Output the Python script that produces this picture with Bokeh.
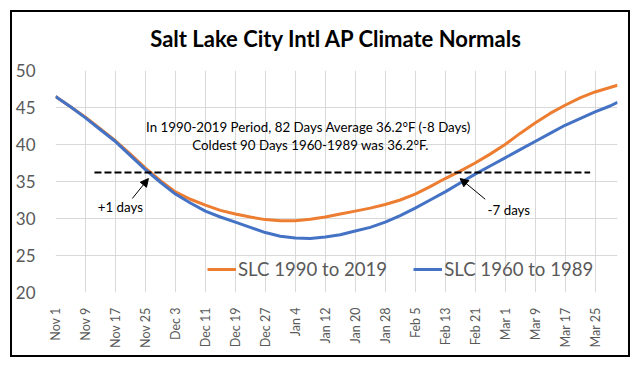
from bokeh.plotting import figure
from bokeh.models import Range1d, FixedTicker, Label, Arrow, NormalHead, Legend, LegendItem
from bokeh.embed import file_html
from bokeh.resources import INLINE
import math

# Day index from Nov 1 (0) to Mar 31 (150)
days = [0, 4, 8, 12, 16, 20, 24, 28, 32, 36, 40, 44, 48, 52, 56, 60, 64, 68, 72, 76,
        80, 84, 88, 92, 96, 100, 104, 108, 112, 116, 120, 124, 128, 132, 136, 140, 144, 148, 150]
slc_1990_2019 = [46.5, 45.1, 43.7, 42.1, 40.5, 38.7, 36.8, 35.1, 33.6, 32.6, 31.8, 31.1, 30.6, 30.2,
                 29.85, 29.7, 29.7, 29.9, 30.2, 30.6, 31.0, 31.4, 31.9, 32.5, 33.3, 34.3, 35.4,
                 36.4, 37.5, 38.7, 40.0, 41.5, 42.9, 44.2, 45.3, 46.3, 47.1, 47.7, 48.0]
slc_1960_1989 = [46.5, 45.1, 43.6, 42.0, 40.4, 38.5, 36.6, 34.9, 33.3, 32.1, 31.0, 30.2, 29.5, 28.8,
                 28.1, 27.6, 27.35, 27.3, 27.5, 27.8, 28.3, 28.8, 29.5, 30.4, 31.4, 32.5, 33.6,
                 34.8, 36.0, 37.1, 38.2, 39.3, 40.4, 41.5, 42.6, 43.5, 44.4, 45.2, 45.7]
tick_days = [0, 8, 16, 24, 32, 40, 48, 56, 64, 72, 80, 88, 96, 104, 112, 120, 128, 136, 144]
tick_labels = ["Nov 1", "Nov 9", "Nov 17", "Nov 25", "Dec 3", "Dec 11", "Dec 19", "Dec 27",
               "Jan 4", "Jan 12", "Jan 20", "Jan 28", "Feb 5", "Feb 13", "Feb 21", "Mar 1",
               "Mar 9", "Mar 17", "Mar 25"]
y_ticks = [20, 25, 30, 35, 40, 45, 50]
threshold = 36.2
threshold_start, threshold_end = 10.4, 142.7
title_text = "Salt Lake City Intl AP Climate Normals"
note1 = "In 1990-2019  Period, 82 Days Average 36.2°F (-8 Days)"
note2 = "Coldest 90 Days 1960-1989  was 36.2°F."

FONT = "Lato"
GRAY = "#595959"

p = figure(width=640, height=367, output_backend="svg", toolbar_location=None,
           x_range=Range1d(0, 150), y_range=Range1d(20, 50),
           min_border_left=55, min_border_right=23, min_border_top=70, min_border_bottom=75)
p.outline_line_color = None
p.border_fill_alpha = 0
# outer chart border (CSS outline, inset so it sits inside the canvas)
p.styles = {"outline": "2.5px solid black", "outline-offset": "-12.5px",
            "background-color": "white"}

p.title.text = title_text
p.title.align = "center"
p.title.text_font = FONT
p.title.text_font_size = "22px"
p.title.text_font_style = "bold"
p.title.text_color = "black"
p.title.standoff = 37

p.xaxis.ticker = FixedTicker(ticks=tick_days)
p.xaxis.major_label_overrides = {d: l for d, l in zip(tick_days, tick_labels)}
p.xaxis.major_label_orientation = math.pi / 2
p.xaxis.major_label_text_font = FONT
p.xaxis.major_label_text_font_size = "12.5px"
p.xaxis.major_label_text_color = GRAY
p.xaxis.major_label_standoff = 9
p.yaxis.ticker = FixedTicker(ticks=y_ticks)
p.yaxis.major_label_text_font = FONT
p.yaxis.major_label_text_font_size = "17px"
p.yaxis.major_label_text_color = GRAY
p.yaxis.major_label_standoff = 14
for ax in (p.xaxis, p.yaxis):
    ax.axis_line_color = None
    ax.major_tick_line_color = None
    ax.minor_tick_line_color = None
p.xgrid.ticker = FixedTicker(ticks=tick_days + [150])
p.ygrid.ticker = FixedTicker(ticks=y_ticks)
p.xgrid.grid_line_color = "#d9d9d9"
p.ygrid.grid_line_color = "#d9d9d9"

r1 = p.line(days, slc_1990_2019, line_color="#ED7D31", line_width=3)
r2 = p.line(days, slc_1960_1989, line_color="#4472C4", line_width=3)

p.line([threshold_start, threshold_end], [threshold, threshold], line_color="black",
       line_width=2, line_dash="7 3")

for txt, x, y in [(note1, 68, 42.4), (note2, 68.5, 39.9), ("+1 days", 17.3, 31.5), ("-7 days", 121, 31.2)]:
    p.add_layout(Label(x=x, y=y, text=txt, text_align="center", text_baseline="middle",
                       text_font=FONT, text_font_size="13.3px", text_color="black"))

p.add_layout(Arrow(x_start=20.5, y_start=32.7, x_end=24.8, y_end=35.4, line_width=1,
                   end=NormalHead(size=8, fill_color="black", line_color="black")))
p.add_layout(Arrow(x_start=114.7, y_start=32.6, x_end=108, y_end=35.4, line_width=1,
                   end=NormalHead(size=8, fill_color="black", line_color="black")))

legend = Legend(items=[LegendItem(label="SLC 1990 to 2019", renderers=[r1]),
                       LegendItem(label="SLC 1960 to 1989", renderers=[r2])],
                orientation="horizontal", location=(152, 12),
                label_text_font=FONT, label_text_font_size="18.6px", label_text_color=GRAY,
                glyph_width=29, label_standoff=2, spacing=26, padding=0, margin=0,
                border_line_alpha=0, background_fill_alpha=0)
p.add_layout(legend, "center")

open("out.html", "w").write(file_html(p, INLINE))
